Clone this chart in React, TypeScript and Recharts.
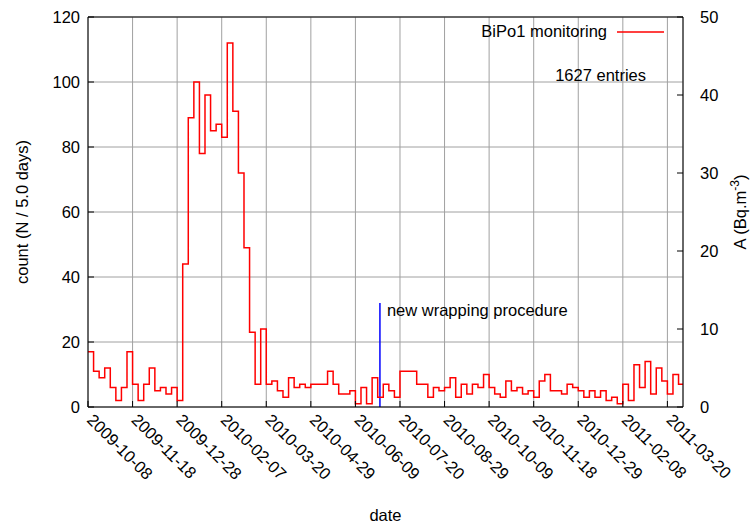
import React from 'react';
import { LineChart, Line, XAxis, YAxis, CartesianGrid, ReferenceLine, Legend, Label } from 'recharts';

// tick labels on the date axis (one every 40 chart days)
const DATE_LABELS = [
    '2009-10-08', '2009-11-18', '2009-12-28', '2010-02-07', '2010-03-20', '2010-04-29', '2010-06-09',
    '2010-07-20', '2010-08-29', '2010-10-09', '2010-11-18', '2010-12-29', '2011-02-08', '2011-03-20',
];
const TICK_STEP_DAYS = 40;
const BIN_DAYS = 5;
const X_END_DAYS = 534;

// counts per 5 day bin
const COUNTS = [
    17, 11, 9, 12, 6, 2, 6, 17, 7, 2, 7, 12, 5, 6, 4, 6, 2,
    44, 89, 100, 78, 96, 85, 87, 83, 112, 91, 72, 49, 23,
    7, 24, 7, 8, 5, 3, 9, 6, 7, 6, 7, 7, 7, 11, 7, 4, 4, 5, 1, 6,
    1, 9, 3, 7, 5, 3, 11, 11, 11, 7, 7, 3, 6, 5, 6, 9, 3, 7, 4, 7, 6, 10,
    6, 4, 3, 8, 5, 6, 4, 5, 3, 8, 10, 5, 5, 4,
    7, 6, 5, 3, 5, 3, 5, 2, 3, 1, 7, 2, 13, 6, 14, 4, 12, 8, 4, 10, 7,
];

const COUNT_TICKS = [0, 20, 40, 60, 80, 100, 120];
const ACTIVITY_TICKS = [0, 10, 20, 30, 40, 50];

const ENTRIES = 1627;
const WRAP_DAY = 262;
const WRAP_TOP = 32;
const WRAP_TEXT = 'new wrapping procedure';

const FONT = '"Liberation Sans", Arial, sans-serif';
const FS = 16.5;

const histData = COUNTS.map((c, i) => ({ day: i * BIN_DAYS, count: c }))
    .concat([{ day: COUNTS.length * BIN_DAYS, count: COUNTS[COUNTS.length - 1] }]);

const DateTick = (props: any) => {
    const { x, y, index } = props;
    const tx = x - 2;
    const ty = y + 14;
    return (
        <g>
            <line x1={x} x2={x} y1={y} y2={y - 6} stroke="#000" />
            <text x={tx} y={ty} transform={`rotate(45 ${tx} ${ty})`} fontFamily={FONT} fontSize={FS} fill="#000">
                {DATE_LABELS[index]}
            </text>
        </g>
    );
};

const CountTick = (props: any) => {
    const { x, y, payload } = props;
    return (
        <g>
            <line x1={x + 8} x2={x + 14} y1={y} y2={y} stroke="#000" />
            <text x={x} y={y} dy="0.36em" textAnchor="end" fontFamily={FONT} fontSize={FS} fill="#000">
                {payload.value}
            </text>
        </g>
    );
};

const ActivityTick = (props: any) => {
    const { x, y, payload } = props;
    return (
        <g>
            <line x1={x - 17} x2={x - 23} y1={y} y2={y} stroke="#000" />
            <text x={x} y={y} dy="0.36em" textAnchor="start" fontFamily={FONT} fontSize={FS} fill="#000">
                {payload.value}
            </text>
        </g>
    );
};

const LeftTitle = ({ viewBox }: any) => {
    const cx = viewBox.x + 22;
    const cy = viewBox.y + viewBox.height / 2;
    return (
        <text x={cx} y={cy} transform={`rotate(-90 ${cx} ${cy})`} textAnchor="middle" dy="0.36em"
            fontFamily={FONT} fontSize={FS} fill="#000">
            count (N / 5.0 days)
        </text>
    );
};

const RightTitle = ({ viewBox }: any) => {
    const cx = viewBox.x + 57;
    const cy = viewBox.y + viewBox.height / 2;
    return (
        <text x={cx} y={cy} transform={`rotate(-90 ${cx} ${cy})`} textAnchor="middle" dy="0.36em"
            fontFamily={FONT} fontSize={FS} fill="#000">
            <tspan>A (Bq.m</tspan>
            <tspan dy={-7} fontSize={12}>-3</tspan>
            <tspan dy={7}>)</tspan>
        </text>
    );
};

const DateTitle = ({ viewBox }: any) => (
    <text x={viewBox.x + viewBox.width / 2} y={viewBox.y + viewBox.height - 6} textAnchor="middle"
        fontFamily={FONT} fontSize={FS} fill="#000">
        date
    </text>
);

const WrapLabel = ({ viewBox }: any) => (
    <text x={viewBox.x + 7} y={viewBox.y + 13} fontFamily={FONT} fontSize={FS} fill="#000">
        {WRAP_TEXT}
    </text>
);

const KeyBox = () => (
    <div style={{ fontFamily: FONT, fontSize: FS, color: '#000', textAlign: 'right', lineHeight: '19px' }}>
        <div style={{ display: 'flex', alignItems: 'center', justifyContent: 'flex-end' }}>
            <span>BiPo1 monitoring</span>
            <svg width={47} height={4} style={{ marginLeft: 10 }}>
                <line x1={0} x2={47} y1={2} y2={2} stroke="#ff0000" strokeWidth={1.5} />
            </svg>
        </div>
        <div style={{ marginTop: 25, paddingRight: 18 }}>{ENTRIES} entries</div>
    </div>
);

export default function App() {
    return (
        <div style={{ position: 'absolute', left: 0, top: 0, fontFamily: FONT }}>
            <LineChart width={756} height={527} data={histData} margin={{ top: 17, right: 0, bottom: 0, left: 0 }}>
                <CartesianGrid stroke="#a0a0a0" strokeWidth={1} />
                <XAxis dataKey="day" type="number" domain={[0, X_END_DAYS]} allowDataOverflow
                    ticks={DATE_LABELS.map((_, i) => i * TICK_STEP_DAYS)} interval={0}
                    height={120} tickSize={0} tickMargin={0} tickLine={false} tick={<DateTick />}
                    axisLine={{ stroke: '#000' }}>
                    <Label content={<DateTitle />} />
                </XAxis>
                <YAxis domain={[0, 120]} ticks={COUNT_TICKS} interval={0} width={88} tickSize={0} tickMargin={8}
                    tickLine={false} tick={<CountTick />} axisLine={{ stroke: '#000' }}>
                    <Label content={<LeftTitle />} />
                </YAxis>
                <YAxis yAxisId="activity" orientation="right" type="number" domain={[0, 50]} allowDataOverflow
                    ticks={ACTIVITY_TICKS} interval={0}
                    width={73} tickSize={0} tickMargin={17} tickLine={false} tick={<ActivityTick />}
                    axisLine={{ stroke: '#000' }}>
                    <Label content={<RightTitle />} />
                </YAxis>
                <ReferenceLine y={120} stroke="#000" />
                <ReferenceLine yAxisId="activity" y={0} stroke="none" ifOverflow="extendDomain" />
                <ReferenceLine segment={[{ x: WRAP_DAY, y: 0 }, { x: WRAP_DAY, y: WRAP_TOP }]} stroke="#0000ff"
                    strokeWidth={1.5} label={<WrapLabel />} />
                <Legend verticalAlign="middle" align="center" content={<KeyBox />}
                    wrapperStyle={{ top: 22, right: 92, left: 'auto', width: 'auto' }} />
                <Line type="stepAfter" dataKey="count" stroke="#ff0000" strokeWidth={1.5} dot={false}
                    isAnimationActive={false} legendType="line" />
            </LineChart>
        </div>
    );
}
